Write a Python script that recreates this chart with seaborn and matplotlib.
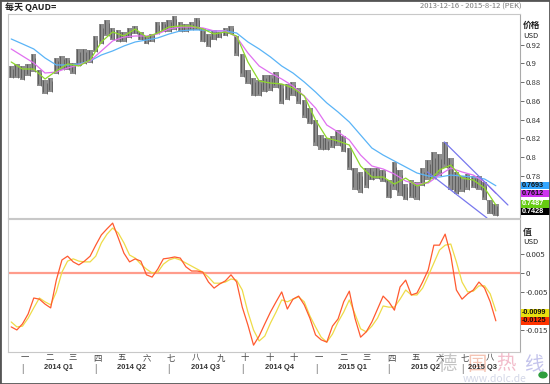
import matplotlib
matplotlib.use("Agg")
import matplotlib.pyplot as plt
import matplotlib.transforms as mtransforms
from matplotlib.patches import Rectangle, Circle
import seaborn as sns
import pandas as pd
import numpy as np

# weekly samples (centre of each week)
week_dates = pd.date_range("2013-12-18", periods=87, freq="7D")

price_high = [0.897, 0.899, 0.897, 0.899, 0.910, 0.893, 0.882, 0.884, 0.906, 0.908,
              0.906, 0.901, 0.916, 0.916, 0.914, 0.929, 0.942, 0.9465, 0.938, 0.936,
              0.934, 0.938, 0.940, 0.934, 0.929, 0.932, 0.944, 0.944, 0.9465, 0.951,
              0.944, 0.942, 0.944, 0.949, 0.938, 0.932, 0.936, 0.934, 0.938, 0.940,
              0.929, 0.910, 0.893, 0.884, 0.882, 0.888, 0.888, 0.891, 0.878, 0.878,
              0.880, 0.874, 0.861, 0.852, 0.840, 0.824, 0.820, 0.822, 0.829, 0.822,
              0.810, 0.788, 0.784, 0.788, 0.788, 0.788, 0.786, 0.775, 0.795, 0.786,
              0.771, 0.775, 0.773, 0.788, 0.797, 0.805, 0.803, 0.816, 0.799, 0.784,
              0.780, 0.782, 0.780, 0.780, 0.773, 0.754, 0.750]
price_low = [0.884, 0.884, 0.882, 0.887, 0.891, 0.876, 0.867, 0.869, 0.889, 0.893,
             0.893, 0.889, 0.897, 0.899, 0.901, 0.912, 0.921, 0.929, 0.925, 0.923,
             0.923, 0.927, 0.931, 0.925, 0.921, 0.923, 0.931, 0.934, 0.934, 0.936,
             0.934, 0.934, 0.936, 0.936, 0.923, 0.918, 0.925, 0.927, 0.929, 0.931,
             0.908, 0.886, 0.878, 0.865, 0.865, 0.869, 0.871, 0.874, 0.857, 0.861,
             0.865, 0.857, 0.842, 0.835, 0.812, 0.807, 0.807, 0.810, 0.812, 0.805,
             0.786, 0.765, 0.762, 0.767, 0.775, 0.777, 0.773, 0.756, 0.765, 0.758,
             0.754, 0.756, 0.754, 0.769, 0.775, 0.777, 0.780, 0.788, 0.765, 0.760,
             0.763, 0.765, 0.767, 0.765, 0.754, 0.739, 0.737]

# moving averages, every second week
ma_dates = week_dates[::2]
ma_blue = [0.9262, 0.9209, 0.9155, 0.9059, 0.8984, 0.8984, 0.8995, 0.9027, 0.9091, 0.9134,
           0.9187, 0.9230, 0.9251, 0.9273, 0.9315, 0.9348, 0.9358, 0.9358, 0.9348, 0.9348,
           0.9326, 0.9230, 0.9155, 0.9070, 0.8973, 0.8898, 0.8802, 0.8695, 0.8578, 0.8481,
           0.8374, 0.8235, 0.8096, 0.8021, 0.7957, 0.7893, 0.7829, 0.7797, 0.7786, 0.7807,
           0.7797, 0.7786, 0.7765, 0.7693]
ma_pink = [0.9155, 0.9080, 0.9005, 0.8898, 0.8909, 0.8952, 0.8984, 0.9027, 0.9134, 0.9241,
           0.9283, 0.9294, 0.9294, 0.9315, 0.9369, 0.9390, 0.9390, 0.9380, 0.9348, 0.9348,
           0.9283, 0.9112, 0.8973, 0.8898, 0.8834, 0.8759, 0.8652, 0.8524, 0.8342, 0.8267,
           0.8182, 0.8021, 0.7904, 0.7872, 0.7818, 0.7743, 0.7711, 0.7722, 0.7807, 0.7882,
           0.7840, 0.7807, 0.7733, 0.7612]
ma_green = [0.9016, 0.8941, 0.8941, 0.8834, 0.8920, 0.8995, 0.8973, 0.9037, 0.9230, 0.9337,
            0.9294, 0.9369, 0.9283, 0.9326, 0.9390, 0.9401, 0.9401, 0.9369, 0.9315, 0.9337,
            0.9294, 0.9016, 0.8813, 0.8791, 0.8781, 0.8738, 0.8652, 0.8396, 0.8203, 0.8171,
            0.8128, 0.7904, 0.7786, 0.7786, 0.7711, 0.7775, 0.7690, 0.7733, 0.7861, 0.7914,
            0.7775, 0.7754, 0.7668, 0.7487]

# descending channel
chan_up_dates = pd.to_datetime(["2015-06-09", "2015-08-27"])
chan_up_vals = [0.8161, 0.7487]
chan_lo_dates = pd.to_datetime(["2015-05-19", "2015-08-01"])
chan_lo_vals = [0.7840, 0.7348]

# lower indicator panel
macd_red = [-0.0141, -0.0149, -0.0133, -0.0107, -0.0065, -0.0068, -0.0081, -0.0091, -0.0018, 0.0035,
            0.0045, 0.0030, 0.0022, 0.0032, 0.0045, 0.0074, 0.0101, 0.0117, 0.0132, 0.0093,
            0.0053, 0.0030, 0.0038, 0.0032, -0.0004, -0.0010, 0.0011, 0.0038, 0.0040, 0.0043,
            0.0040, 0.0017, 0.0006, 0.0006, 0.0003, -0.0023, -0.0039, -0.0028, -0.0020, -0.0004,
            -0.0023, -0.0089, -0.0136, -0.0189, -0.0165, -0.0133, -0.0102, -0.0075, -0.0049, -0.0094,
            -0.0068, -0.0060, -0.0083, -0.0118, -0.0162, -0.0175, -0.0181, -0.0139, -0.0120, -0.0075,
            -0.0047, -0.0118, -0.0168, -0.0154, -0.0128, -0.0094, -0.0060, -0.0075, -0.0097, -0.0036,
            -0.0018, -0.0057, -0.0052, -0.0023, 0.0009, 0.0074, 0.0074, 0.0103, 0.0048, -0.0044,
            -0.0068, -0.0054, -0.0044, -0.0023, -0.0039, -0.0075, -0.0125]
macd_yellow = [-0.0128, -0.0141, -0.0139, -0.0118, -0.0091, -0.0065, -0.0075, -0.0083, -0.0049, 0.0003,
               0.0032, 0.0038, 0.0032, 0.0030, 0.0030, 0.0045, 0.0080, 0.0103, 0.0119, 0.0106,
               0.0080, 0.0048, 0.0040, 0.0024, 0.0011, 0.0001, 0.0003, 0.0024, 0.0035, 0.0040,
               0.0035, 0.0027, 0.0019, 0.0011, 0.0003, -0.0010, -0.0026, -0.0026, -0.0023, -0.0015,
               -0.0018, -0.0044, -0.0102, -0.0149, -0.0178, -0.0165, -0.0131, -0.0102, -0.0070, -0.0075,
               -0.0068, -0.0062, -0.0075, -0.0112, -0.0141, -0.0168, -0.0181, -0.0160, -0.0128, -0.0102,
               -0.0070, -0.0107, -0.0146, -0.0154, -0.0139, -0.0118, -0.0086, -0.0089, -0.0089, -0.0068,
               -0.0044, -0.0057, -0.0057, -0.0039, -0.0007, 0.0027, 0.0061, 0.0074, 0.0077, 0.0030,
               -0.0023, -0.0049, -0.0047, -0.0033, -0.0033, -0.0054, -0.0099]
zero_level = 0.0

price_ticks = [0.78, 0.80, 0.82, 0.84, 0.86, 0.88, 0.90, 0.92]
price_tick_labels = ["0.78", "0.8", "0.82", "0.84", "0.86", "0.88", "0.9", "0.92"]
ind_ticks = [0.005, 0.0, -0.005, -0.015]
ind_tick_labels = ["0.005", "0", "-0.005", "-0.015"]

# label, value, box colour, text colour, box centre (value units)
last_values = [("0.7693", 0.7693, "#33a6ff", "#111111", 0.7697),
               ("0.7612", 0.7612, "#cc33ee", "#111111", 0.7610),
               ("0.7487", 0.7487, "#66cc11", "#ffffff", 0.7500),
               ("0.7428", 0.7428, "#000000", "#ffffff", 0.7415)]
ind_last_values = [("-0.0099", -0.0099, "#e8e010", "#111111", -0.0104),
                   ("-0.0125", -0.0125, "#ff3300", "#111111", -0.0125)]

month_starts = pd.date_range("2014-01-01", "2015-08-01", freq="MS")
month_labels = ["一", "二", "三", "四", "五", "六", "七", "八", "九", "十", "十", "十",
                "一", "二", "三", "四", "五", "六", "七", "八"]
quarter_starts = pd.to_datetime(["2014-01-01", "2014-04-01", "2014-07-01", "2014-10-01",
                                 "2015-01-01", "2015-04-01", "2015-07-01", "2015-08-12"])
quarter_labels = ["2014 Q1", "2014 Q2", "2014 Q3", "2014 Q4", "2015 Q1", "2015 Q2", "2015 Q3"]

sns.set_style("white")
plt.rcParams["font.family"] = ["Noto Sans CJK SC", "DejaVu Sans"]

W, H = 550, 384
fig = plt.figure(figsize=(W / 100, H / 100), dpi=100)
ax1 = fig.add_axes([8 / W, 1 - 218 / H, 512 / W, 204 / H])
ax2 = fig.add_axes([8 / W, 1 - 352 / H, 512 / W, 133 / H])

xmin, xmax = pd.Timestamp("2013-12-14"), pd.Timestamp("2015-09-11")

# price range bars (gray band with dark wicks)
hi = np.array(price_high)
lo = np.array(price_low)
ax1.bar(week_dates, hi - lo, bottom=lo, width=6.8, color="#8e8e8e",
        edgecolor="none", linewidth=0, zorder=2)
ax1.vlines(week_dates - pd.Timedelta(days=2), lo + (hi - lo) * 0.15, hi, color="#4a4a4a",
           linewidth=0.5, zorder=2)
ax1.vlines(week_dates + pd.Timedelta(days=2), lo, hi - (hi - lo) * 0.2, color="#555555",
           linewidth=0.5, zorder=2)

sns.lineplot(x=ma_dates, y=ma_blue, ax=ax1, color="#5ab4f7", linewidth=0.9, zorder=3)
sns.lineplot(x=ma_dates, y=ma_pink, ax=ax1, color="#e070f0", linewidth=0.9, zorder=3)
sns.lineplot(x=ma_dates, y=ma_green, ax=ax1, color="#8ed82a", linewidth=0.9, zorder=4)
sns.lineplot(x=chan_up_dates, y=chan_up_vals, ax=ax1, color="#7878ee", linewidth=0.9, zorder=5)
sns.lineplot(x=chan_lo_dates, y=chan_lo_vals, ax=ax1, color="#7878ee", linewidth=0.9, zorder=5)

ax2.axhline(zero_level, color="#ff9c8c", linewidth=1.6, zorder=1)
sns.lineplot(x=week_dates, y=macd_yellow, ax=ax2, color="#eedc48", linewidth=0.9, zorder=2)
sns.lineplot(x=week_dates, y=macd_red, ax=ax2, color="#ff5a30", linewidth=0.9, zorder=3)

ax1.set_ylim(0.7348, 0.9529)
ax2.set_ylim(-0.0207, 0.01428)
ax1.set_yticks(price_ticks)
ax1.set_yticklabels(price_tick_labels)
ax2.set_yticks(ind_ticks)
ax2.set_yticklabels(ind_tick_labels)

for ax in (ax1, ax2):
    ax.set_xlim(xmin, xmax)
    ax.set_xticks([])
    ax.set_xlabel("")
    ax.set_ylabel("")
    ax.yaxis.tick_right()
    ax.tick_params(axis="y", direction="out", length=3, width=0.6, colors="#555555",
                   labelsize=5.6, labelcolor="#333333", pad=1)
    for s in ax.spines.values():
        s.set_color("#c8c8c8")
        s.set_linewidth(0.8)
    ax.spines["right"].set_color("#aaaaaa")

# last-value boxes on the right axis (7 px tall, 29 px wide)
for ax, items in ((ax1, last_values), (ax2, ind_last_values)):
    tr = mtransforms.blended_transform_factory(ax.transAxes, ax.transData)
    y0, y1 = ax.get_ylim()
    px_h = ax.get_position().height * H
    box_h = 7.5 * (y1 - y0) / px_h
    for txt, val, fc, tc, yc in items:
        ax.add_patch(Rectangle((1.002, yc - box_h / 2), 29 / 512, box_h, transform=tr,
                               facecolor=fc, edgecolor="none", clip_on=False, zorder=9))
        ax.text(1.004, yc, txt, transform=tr, fontsize=5.2, color=tc, va="center", ha="left",
                fontweight="bold", family="Liberation Sans", zorder=10, clip_on=False)

# headers
fig.text(5 / W, 1 - 7 / H, "每天 QAUD=", fontsize=6.5, va="center", ha="left",
         color="#222222", fontweight="bold")
fig.text(522 / W, 1 - 7 / H, "2013-12-16 - 2015-8-12 (PEK)", fontsize=5.5, va="center",
         ha="right", color="#777777")
fig.text(523 / W, 1 - 25 / H, "价格", fontsize=6.3, va="center", ha="left", fontweight="bold", color="#222222")
fig.text(523 / W, 1 - 36 / H, "USD", fontsize=5.5, va="center", ha="left", color="#222222")
fig.text(523 / W, 1 - 232 / H, "值", fontsize=6.3, va="center", ha="left", fontweight="bold", color="#222222")
fig.text(523 / W, 1 - 242 / H, "USD", fontsize=5.5, va="center", ha="left", color="#222222")

# time axis labels
trx = mtransforms.blended_transform_factory(ax2.transData, ax2.transAxes)
for d, lab in zip(month_starts, month_labels):
    ax2.text(d + pd.Timedelta(days=3), -0.045, lab, transform=trx, fontsize=6, ha="center",
             va="center", color="#444444", clip_on=False)
for d in quarter_starts[:-1]:
    ax2.text(d, -0.125, "|", transform=trx, fontsize=6.5, ha="center", va="center",
             color="#555555", clip_on=False)
for i, lab in enumerate(quarter_labels):
    mid = quarter_starts[i] + (quarter_starts[i + 1] - quarter_starts[i]) / 2
    if i == len(quarter_labels) - 1:
        mid = quarter_starts[i] + pd.Timedelta(days=26)
    ax2.text(mid, -0.12, lab, transform=trx, fontsize=5.4, ha="center", va="center",
             color="#333333", fontweight="bold", family="Liberation Sans", clip_on=False)

# watermark (kept behind everything)
for ch, xp, col in (("德", 447, "#c4c4c4"), ("国", 477, "#f4c4b4"), ("热", 506, "#f2bccb"), ("线", 534, "#c4c4ec")):
    fig.text(xp / W, 1 - 364 / H, ch, fontsize=14, ha="center", va="center", color=col, zorder=-1)
fig.text(495 / W, 1 - 379 / H, "www.dolc.de", fontsize=7.5, ha="center", va="center",
         color="#d4d8e8", zorder=-1)
fig.add_artist(Circle((543 / W, 1 - 375 / H), 4 / W, transform=fig.transFigure,
                      color="#2e9e3e", zorder=20))

fig.add_artist(Rectangle((0, 0), 1, 1, transform=fig.transFigure, fill=False,
                         edgecolor="#555555", linewidth=2.0))

fig.savefig("out.png", dpi=100)
